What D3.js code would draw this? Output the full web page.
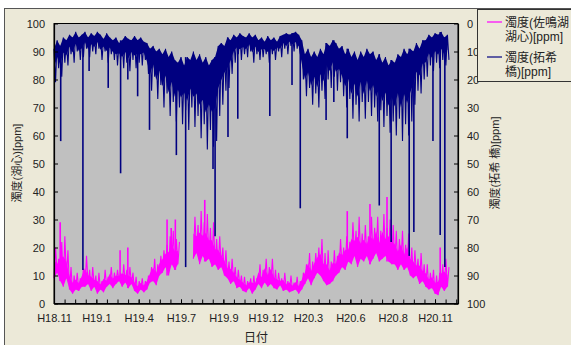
<!DOCTYPE html>
<html>
<head>
<meta charset="utf-8">
<script src="https://cdn.jsdelivr.net/npm/d3@7"></script>
<style>
  body { margin: 0; background: #fff; }
  text { font-family: "Liberation Sans", Arial, "Noto Sans CJK JP", sans-serif; }
</style>
</head>
<body>
<div id="chart"></div>
<script>
// Samples every 6 days from 2006-11-05; each sample keeps the low and high of its window
var sampleStart = new Date(2006, 10, 5);
var sampleStepDays = 6;

// 濁度(拓希橋) [ppm] — plotted on the reversed right axis
var navyMin = [9,6,8,5,6,4,5,3,5,4,
  3,5,3.5,4.5,3,4,5.5,3.5,5,6,
  5,7,6,4.5,5.5,6,4.5,6,5,6.5,
  7,9,8,10,9,11,9,12,10,13,
  14,12,15,12,13,10,13,11,14,12,
  15,13,12,8,7,8,5,6,4,5,
  3.5,4.5,5,3.5,5,4,6,5,6.5,4.5,
  6,5,6.5,4.5,4,3.5,4,3.5,3,4,
  6,11,9,12,10,12,9,11,7,8,
  6,7,9,8,11,9,12,10,13,10,
  12,9,11,10,13,11,14,12,15,13,
  14,11,12,9,11,9,10,7,9,6,
  6,4,5,3.5,4,3,5,4];
var navyMax = [21,16,19,14,15,11,14,10,13,12,
  9,12,10,11,9,13,10,14,11,13,
  15,13,16,14,17,13,16,14,15,13,
  18,24,19,27,22,30,25,33,28,35,
  30,36,31,38,30,37,33,41,36,45,
  38,44,42,33,29,24,23,18,14,11,
  13,11,12,10,14,11,13,12,11,14,
  11,13,10,12,9,11,8,10,9,11,
  20,26,23,29,25,30,24,27,20,23,
  19,24,21,26,30,27,34,29,35,28,
  34,28,33,30,35,31,37,33,39,35,
  40,34,42,36,40,35,29,24,25,20,
  19,15,17,14,16,13,15,13];
// single readings far below the band
var navySpikeDates = ["2006-11-18","2006-12-31","2007-01-12","2007-02-18","2007-03-14","2007-03-28",
  "2007-04-16","2007-05-09","2007-06-30","2007-07-18","2007-09-09","2007-09-13","2007-10-08",
  "2007-10-27","2007-12-28","2008-02-09","2008-02-25","2008-04-15","2008-04-30","2008-05-26",
  "2008-07-27","2008-08-19","2008-09-23","2008-10-02","2008-11-08","2008-11-22","2008-12-01"];
var navySpikeValues = [42,88,17,23,53.5,20,26,38,47,87,52,76,40.5,34,33,22,66,34.5,28,41,65,78,83,74.5,42,75.5,87];

// 濁度(佐鳴湖湖心) [ppm] — left axis, null = no record
var pinkMin = [9,11,8,6,9,5,3.5,5,4.5,6,
  6,7,4.5,6,3.5,5,4,6,7,5.5,
  7,8,6,7.5,5.5,7,4.5,3.5,5,4,
  5,7.5,8,6.5,10,11,13,10,14,12,
  14,null,null,null,null,16,18,14,17,15,
  16,13,14,12,13,10,9,7,8,5.5,
  6,4.5,4,5.5,3.5,5,7,5.5,7.5,6,
  7,5.5,5,6.5,4.5,5,4,4.5,5,3.5,
  5,7,9,6.5,9,11,10,8,6.5,7,
  8,10,11,13,12,15,14,17,13,16,
  15,17,14,16,18,15,16,17,15,14,
  14,12,14,12,13,10,9,10,7,8,
  6,5,5.5,3.5,3,6,4.5,6];
var pinkMax = [20,16,22,24,19,13,10,11,9,12.5,
  17,12,13,10,11,8,12,9.5,13,11,
  12,11,14,12,13,11,9.5,8,9,8,
  10,13,16,14,17,19,21,24,26,23,
  22,null,null,null,null,31,28,33,29,32,
  27,29,23,24,20,19,15,16,13,12,
  10,9.5,8,9,10,9,14,12,16,13,
  16,12,11,9,11,8,10,7.5,9.5,8,
  11,14,18,15,18,20,23,18,19,15,
  19,17,23,20,24,22,29,26,31,25,
  28,24,31,27,31,26,32,27,30,28,
  26,23,26,21,25,20,19,16,18,14,
  14,11,12,10,11,14,16,13];
var pinkSpikeDates = ["2006-11-17","2007-03-13","2007-03-28","2007-06-12","2007-06-20","2007-06-28",
  "2007-08-24","2008-05-26","2008-07-09","2008-08-11","2008-11-22"];
var pinkSpikeValues = [29,19,20,30,27,30,37,33,35.5,38,20];

var xTickLabels = ["H18.11","H19.1","H19.4","H19.7","H19.9","H19.12","H20.3","H20.6","H20.8","H20.11"];
var yLeftTicks = [0,10,20,30,40,50,60,70,80,90,100];
var yRightTicks = [0,10,20,30,40,50,60,70,80,90,100];
var seriesNames = [["濁度(佐鳴湖", "湖心)[ppm]"], ["濁度(拓希", "橋)[ppm]"]];
var seriesColors = ["#ff00ff", "#000080"];

var W = 571, H = 345;
var margin = { top: 23.5, right: 113, bottom: 41.5, left: 54 },
    width = W - margin.left - margin.right,
    height = H - margin.top - margin.bottom;

var svg = d3.select("#chart").append("svg")
    .attr("width", W).attr("height", H);

// chart area frame
svg.append("rect")
    .attr("x", 4.5).attr("y", 8.5)
    .attr("width", 600).attr("height", 400)
    .attr("fill", "#ece9d8").attr("stroke", "#555");

var g = svg.append("g")
    .attr("transform", "translate(" + margin.left + "," + margin.top + ")");

// axis start and spacing of the date ticks (days)
var axisStart = new Date(2006, 10, 5);
var majorDays = 82, minorDays = 20.5, spanDays = 782.5;
var dayMs = 864e5;
var parseDate = d3.timeParse("%Y-%m-%d");

var x = d3.scaleTime()
    .domain([axisStart, new Date(+axisStart + spanDays * dayMs)])
    .range([0, width]);
var yL = d3.scaleLinear().domain([0, 100]).range([height, 0]);
var yR = d3.scaleLinear().domain([0, 100]).range([0, height]);

g.append("rect")
    .attr("width", width).attr("height", height)
    .attr("fill", "#c0c0c0");

function sampleDate(i) { return new Date(+sampleStart + i * sampleStepDays * dayMs); }

function samples(mins, maxs) {
    return mins.map(function (m, i) { return { t: sampleDate(i), lo: m, hi: maxs[i] }; });
}

function zigzag(mins, maxs) {
    var pts = [];
    mins.forEach(function (m, i) {
        var t = sampleDate(i);
        if (m == null) { pts.push({ t: t, v: null }); return; }
        pts.push({ t: t, v: m });
        pts.push({ t: new Date(+t + sampleStepDays / 2 * dayMs), v: maxs[i] });
    });
    return pts;
}

function drawSeries(mins, maxs, spikeDates, spikeValues, y, color) {
    var s = g.append("g");
    // dense core of the band
    s.append("path")
        .datum(samples(mins, maxs))
        .attr("fill", color)
        .attr("d", d3.area()
            .defined(function (d) { return d.lo != null; })
            .x(function (d) { return x(d.t); })
            .y0(function (d) { return y(d.lo); })
            .y1(function (d) { return y(d.lo + (d.hi - d.lo) * 0.6); }));
    // ragged reading-to-reading trace
    s.append("path")
        .datum(zigzag(mins, maxs))
        .attr("fill", "none")
        .attr("stroke", color)
        .attr("stroke-width", 1.1)
        .attr("d", d3.line()
            .defined(function (d) { return d.v != null; })
            .x(function (d) { return x(d.t); })
            .y(function (d) { return y(d.v); }));
    // isolated spikes
    s.selectAll("line.spike")
        .data(spikeDates.map(function (ds, k) { return { t: parseDate(ds), v: spikeValues[k] }; }))
        .join("line")
        .attr("class", "spike")
        .attr("x1", function (d) { return x(d.t); })
        .attr("x2", function (d) { return x(d.t); })
        .attr("y1", function (d) {
            var idx = Math.round((d.t - sampleStart) / dayMs / sampleStepDays);
            return y(mins[idx]);
        })
        .attr("y2", function (d) { return y(d.v); })
        .attr("stroke", color)
        .attr("stroke-width", 1.6);
}

drawSeries(pinkMin, pinkMax, pinkSpikeDates, pinkSpikeValues, yL, seriesColors[0]);
drawSeries(navyMin, navyMax, navySpikeDates, navySpikeValues, yR, seriesColors[1]);

// plot border
g.append("rect")
    .attr("width", width).attr("height", height)
    .attr("fill", "none").attr("stroke", "#000").attr("stroke-width", 1);

// X axis: minor ticks + labelled major ticks, ticks point inward
var minorTicks = d3.range(0, Math.floor(spanDays / minorDays) + 1)
    .map(function (k) { return new Date(+axisStart + k * minorDays * dayMs); });
var majorTicks = xTickLabels.map(function (s, k) { return new Date(+axisStart + k * majorDays * dayMs); });

g.append("g")
    .attr("transform", "translate(0," + height + ")")
    .call(d3.axisBottom(x).tickValues(minorTicks).tickFormat("").tickSizeInner(-4).tickSizeOuter(0));

g.append("g")
    .attr("transform", "translate(0," + height + ")")
    .call(d3.axisBottom(x).tickValues(majorTicks)
        .tickFormat(function (d, i) { return xTickLabels[i]; })
        .tickSizeInner(-4).tickSizeOuter(0).tickPadding(11));

// Y axes
g.append("g")
    .call(d3.axisLeft(yL).tickValues(yLeftTicks).tickSizeInner(-4).tickSizeOuter(0).tickPadding(9));
g.append("g")
    .attr("transform", "translate(" + width + ",0)")
    .call(d3.axisRight(yR).tickValues(yRightTicks).tickSizeInner(-4).tickSizeOuter(0).tickPadding(9));

g.selectAll(".tick text").attr("font-size", 11).attr("fill", "#222")
    .attr("font-family", "'Liberation Sans', Arial, sans-serif");
g.selectAll(".domain").attr("stroke", "#000").attr("stroke-width", 1.2);
g.selectAll(".tick line").attr("stroke", "#000");

// axis titles
svg.append("text")
    .attr("transform", "translate(21,163) rotate(-90)")
    .attr("text-anchor", "middle")
    .attr("font-size", 11).attr("fill", "#222")
    .text("濁度(湖心)[ppm]");
svg.append("text")
    .attr("transform", "translate(499,163) rotate(-90)")
    .attr("text-anchor", "middle")
    .attr("font-size", 11).attr("fill", "#222")
    .text("濁度(拓希 橋)[ppm]");
svg.append("text")
    .attr("x", 256).attr("y", 342)
    .attr("text-anchor", "middle")
    .attr("font-size", 12).attr("fill", "#222")
    .text("日付");

// legend
var legend = svg.append("g");
legend.append("rect")
    .attr("x", 477.5).attr("y", 9.5)
    .attr("width", 120).attr("height", 72)
    .attr("fill", "#ece9d8").attr("stroke", "#333");

seriesNames.forEach(function (lines, k) {
    var y0 = 22 + k * 35;
    legend.append("line")
        .attr("x1", 487).attr("x2", 502)
        .attr("y1", y0).attr("y2", y0)
        .attr("stroke", seriesColors[k]).attr("stroke-width", 1.2);
    lines.forEach(function (s, j) {
        legend.append("text")
            .attr("x", 505).attr("y", y0 + 4.5 + j * 14)
            .attr("font-size", 12).attr("fill", "#222")
            .text(s);
    });
});
</script>
</body>
</html>
